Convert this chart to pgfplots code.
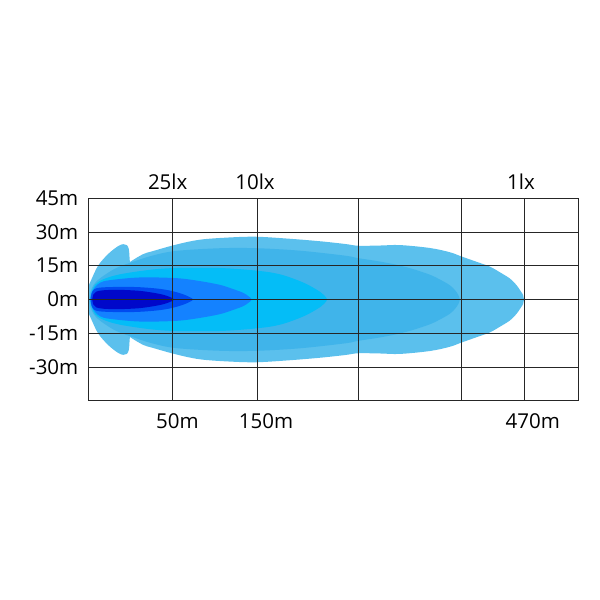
\documentclass[border=0pt]{standalone}
\usepackage{pgfplots}
\pgfplotsset{compat=1.18}
\usepackage{fontspec}
\setmainfont{Open Sans}
\definecolor{cA}{RGB}{91,192,237}
\definecolor{cB}{RGB}{64,180,234}
\definecolor{cC}{RGB}{4,189,247}
\definecolor{cD}{RGB}{20,130,255}
\definecolor{cE}{RGB}{0,75,240}
\definecolor{cF}{RGB}{0,8,202}
\newcommand{\lbl}{\fontsize{20.5}{24}\selectfont}
\begin{document}
\begin{tikzpicture}
\begin{axis}[
  scale only axis, width=490pt, height=202.4pt,
  xmin=0, xmax=490, ymin=-45, ymax=45,
  xtick={84,168.7,270,373.4,435.7}, xticklabels={,,,,},
  ytick={-30,-15,0,15,30,45}, yticklabels={-30m,-15m,0m,15m,30m,45m},
  grid=major, major grid style={line width=0.9pt, color=black!85},
  axis line style={line width=0.9pt, black!85},
  major tick length=0pt,
  axis on top,
  clip mode=individual,
  yticklabel style={font=\lbl, xshift=-6.5pt},
]
% outer layer: lobe
\addplot[draw=none, fill=cA, smooth, tension=0.55] coordinates {
 (-4,0) (-3,3) (0,5.8) (3.4,9.2) (10,15.2) (20,20.3) (30,23.8) (35,24.6) (38.5,24.2) (40.5,22.5) (41.2,19) (41.8,15) (43,8) (44,0)
 (43,-8) (41.8,-15) (41.2,-19) (40.5,-22.5) (38.5,-24.2) (35,-24.6) (30,-23.8) (20,-20.3) (10,-15.2) (3.4,-9.2) (0,-5.8) (-3,-3) (-4,0)};
% outer layer: main body
\addplot[draw=none, fill=cA, smooth, tension=0.55] coordinates {
 (15,0) (20,8) (30,13) (42.7,17) (55,20.2) (64.4,21.5) (87.7,24.4) (111.7,26.6) (141.7,27.6) (168.7,27.9) (201.7,27.0) (231.7,25.9) (256.7,24.7) (270,23.9) (291.7,24.0) (311.7,24.2) (341.7,22.9) (361.7,21) (373.4,19.1) (390,16.5) (401.7,14.6) (412,12) (421.7,9.3) (428,6.5) (432,4) (434.8,2) (435.7,0)
 (434.8,-2) (432,-4) (428,-6.5) (421.7,-9.3) (412,-12) (401.7,-14.6) (390,-16.5) (373.4,-19.1) (361.7,-21) (341.7,-22.9) (311.7,-24.2) (291.7,-24.0) (270,-23.9) (256.7,-24.7) (231.7,-25.9) (201.7,-27.0) (168.7,-27.9) (141.7,-27.6) (111.7,-26.6) (87.7,-24.4) (64.4,-21.5) (55,-20.2) (42.7,-17) (30,-13) (20,-8) (15,0)};
% layer B
\addplot[draw=none, fill=cB, smooth, tension=0.55] coordinates {
 (1,0) (1.8,3) (3.7,5.2) (8,8) (16.7,11) (28,14) (41.7,16.3) (64,19.5) (87.7,21.6) (131.7,22.8) (168.7,22.8) (211.7,21.7) (256.7,19.5) (269.7,18.4) (290,17) (308.7,15.4) (325,13.5) (341.7,11) (352,8.8) (361.7,6.3) (367,4) (370,2) (371.5,0)
 (370,-2) (367,-4) (361.7,-6.3) (352,-8.8) (341.7,-11) (325,-13.5) (308.7,-15.4) (290,-17) (269.7,-18.4) (256.7,-19.5) (211.7,-21.7) (168.7,-22.8) (131.7,-22.8) (87.7,-21.6) (64,-19.5) (41.7,-16.3) (28,-14) (16.7,-11) (8,-8) (3.7,-5.2) (1.8,-3) (1,0)};
% layer C
\addplot[draw=none, fill=cC, smooth, tension=0.55] coordinates {
 (2,0) (3,3) (6.7,6.5) (15,9) (31.7,11.2) (61.7,13.2) (87.7,14) (131.7,14) (168.7,12.8) (191.7,11.2) (214.7,7.6) (229.7,4) (236,1.8) (238.7,0)
 (236,-1.8) (229.7,-4) (214.7,-7.6) (191.7,-11.2) (168.7,-12.8) (131.7,-14) (87.7,-14) (61.7,-13.2) (31.7,-11.2) (15,-9) (6.7,-6.5) (3,-3) (2,0)};
% layer D
\addplot[draw=none, fill=cD, smooth, tension=0.55] coordinates {
 (2,0) (3,2.5) (6.7,5.5) (12,7.5) (21.7,8.6) (51.7,9.8) (87.7,9.5) (110,8.3) (131.7,6.5) (145,4.6) (154.7,3) (160,1.5) (163.4,0)
 (160,-1.5) (154.7,-3) (145,-4.6) (131.7,-6.5) (110,-8.3) (87.7,-9.5) (51.7,-9.8) (21.7,-8.6) (12,-7.5) (6.7,-5.5) (3,-2.5) (2,0)};
% layer E
\addplot[draw=none, fill=cE, smooth, tension=0.55] coordinates {
 (2.5,0) (3.2,2.5) (5.5,4.4) (12,5.3) (30,5.6) (50,5.5) (70,4.8) (83.4,3.8) (95,2.3) (101,1.1) (105,0)
 (101,-1.1) (95,-2.3) (83.4,-3.8) (70,-4.8) (50,-5.5) (30,-5.6) (12,-5.3) (5.5,-4.4) (3.2,-2.5) (2.5,0)};
% layer F
\addplot[draw=none, fill=cF, smooth, tension=0.55] coordinates {
 (4,0) (5,2.2) (8,3.5) (15,4.1) (30,4.3) (50,3.9) (65,3) (75,2.1) (81,1.2) (86,0)
 (81,-1.2) (75,-2.1) (65,-3) (50,-3.9) (30,-4.3) (15,-4.1) (8,-3.5) (5,-2.2) (4,0)};
% labels
\node[anchor=base, yshift=-27.6pt, font=\lbl] at (axis cs:89.2,-45) {50m};
\node[anchor=base, yshift=-27.6pt, font=\lbl] at (axis cs:177.7,-45) {150m};
\node[anchor=base, yshift=-27.6pt, font=\lbl] at (axis cs:444.4,-45) {470m};
\node[anchor=base, yshift=9pt, font=\lbl] at (axis cs:79.4,45) {25lx};
\node[anchor=base, yshift=9pt, font=\lbl] at (axis cs:166.7,45) {10lx};
\node[anchor=base, yshift=9pt, font=\lbl] at (axis cs:432.7,45) {1lx};
\end{axis}
\pgfresetboundingbox
\path (current axis.south west) ++(-88.3pt,-199.3pt) rectangle ++(600pt,600pt);
\end{tikzpicture}
\end{document}
